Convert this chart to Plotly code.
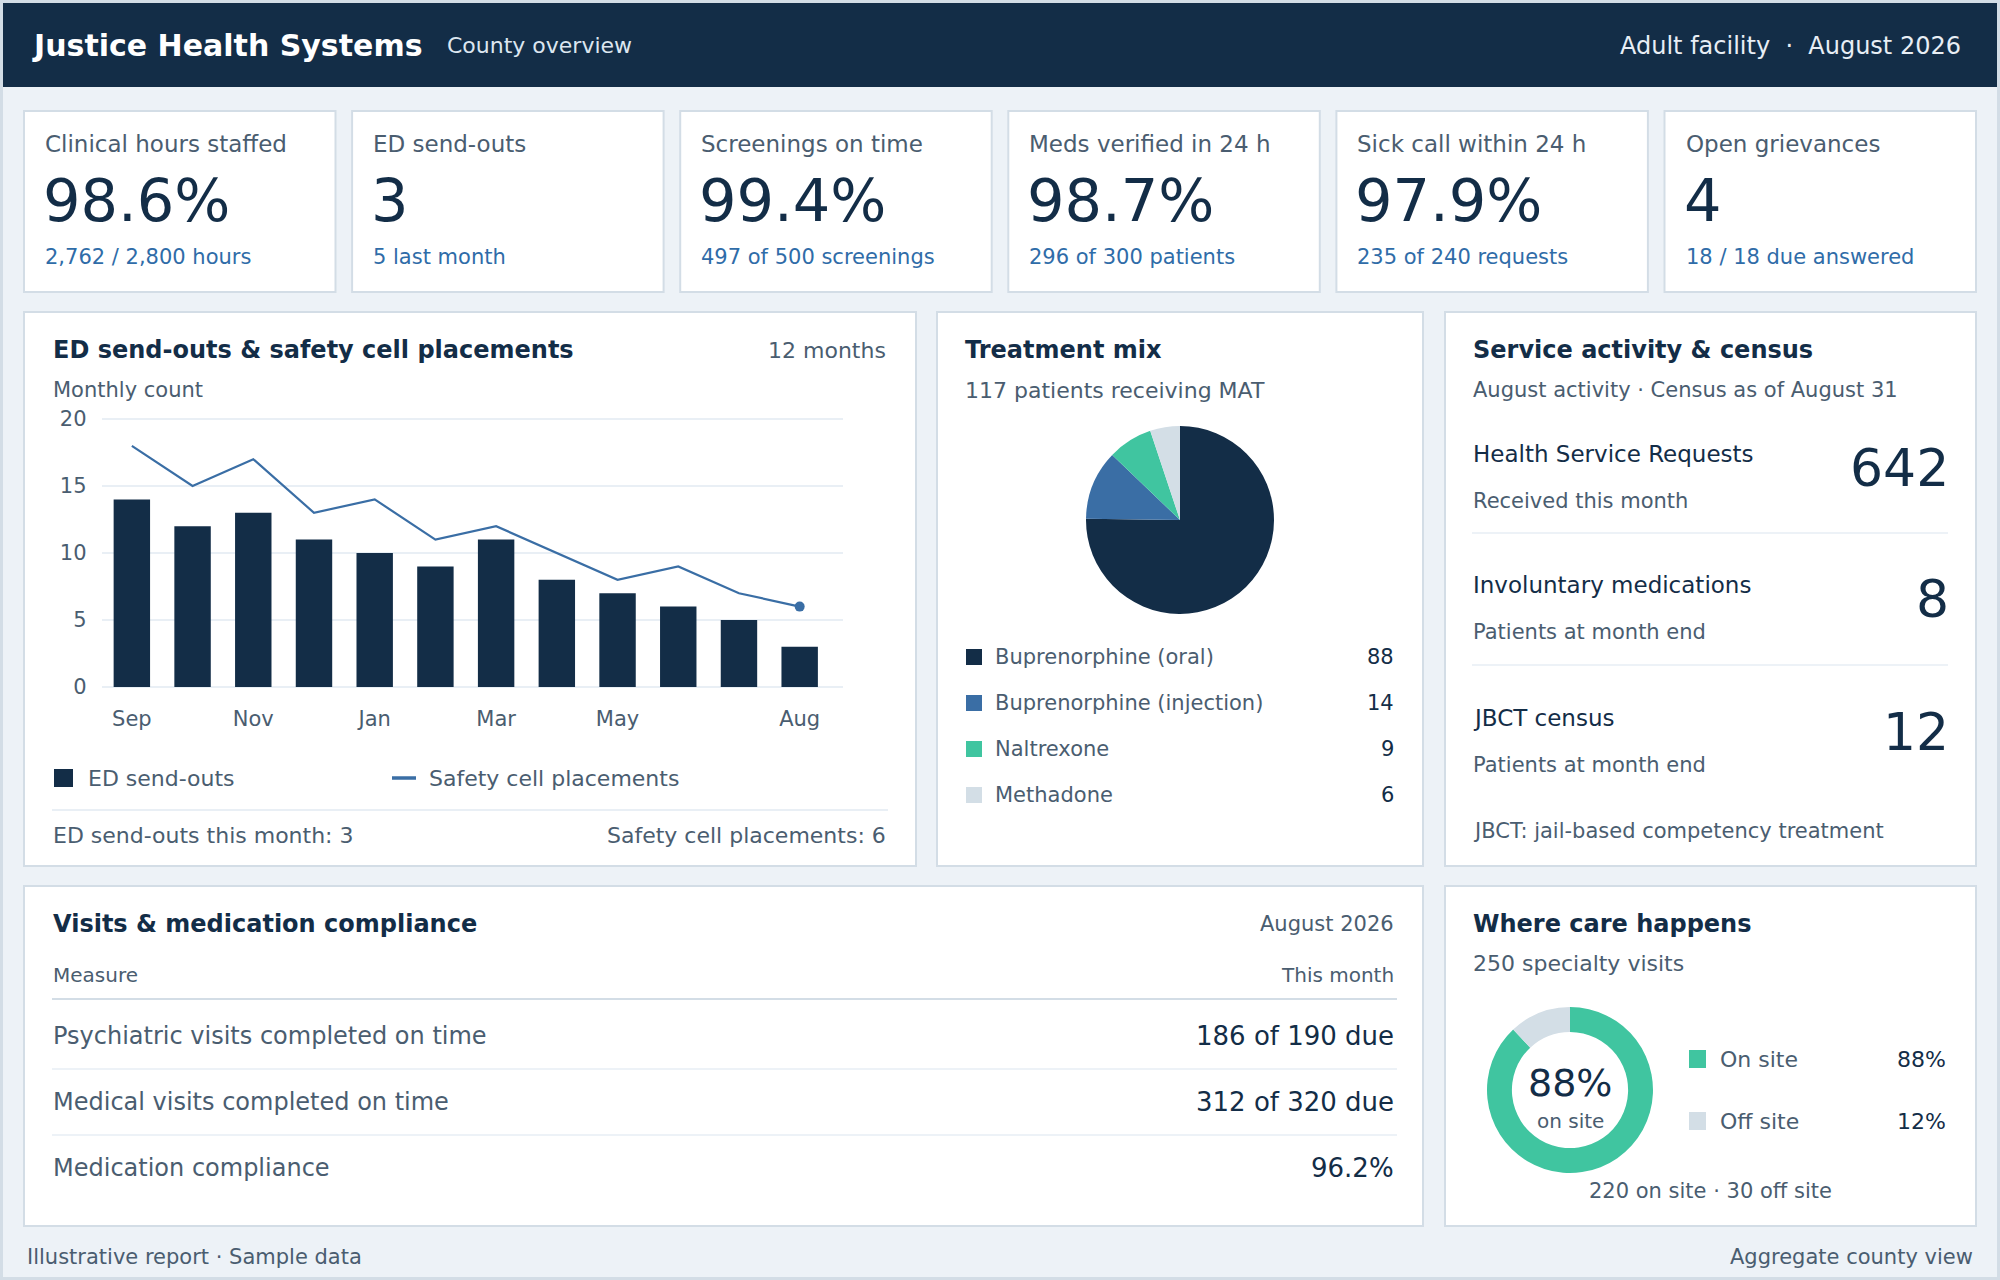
import plotly.graph_objects as go

W, H = 2000, 1280
FONT = "DejaVu Sans"

NAVY = "#132d47"
BLUE = "#3a6ea5"
GREEN = "#40c5a0"
LIGHT = "#d3dee6"
GRAY = "#4a5d70"
SUBBLUE = "#2f6ca8"
PAGE = "#edf2f7"
BORDER = "#d3dde6"

# ---------------- data ----------------
kpi_labels = ["Clinical hours staffed", "ED send-outs", "Screenings on time",
              "Meds verified in 24 h", "Sick call within 24 h", "Open grievances"]
kpi_values = ["98.6%", "3", "99.4%", "98.7%", "97.9%", "4"]
kpi_subs = ["2,762 / 2,800 hours", "5 last month", "497 of 500 screenings",
            "296 of 300 patients", "235 of 240 requests", "18 / 18 due answered"]

months = ["Sep", "Oct", "Nov", "Dec", "Jan", "Feb", "Mar", "Apr", "May", "Jun", "Jul", "Aug"]
tick_months = ["Sep", "Nov", "Jan", "Mar", "May", "Aug"]
ed_sendouts = [14, 12, 13, 11, 10, 9, 11, 8, 7, 6, 5, 3]
safety_cell = [18, 15, 17, 13, 14, 11, 12, 10, 8, 9, 7, 6]
y_ticks = [0, 5, 10, 15, 20]

mat_labels = ["Buprenorphine (oral)", "Buprenorphine (injection)", "Naltrexone", "Methadone"]
mat_counts = [88, 14, 9, 6]
mat_colors = [NAVY, BLUE, GREEN, LIGHT]

service_labels = ["Health Service Requests", "Involuntary medications", "JBCT census"]
service_subs = ["Received this month", "Patients at month end", "Patients at month end"]
service_values = [642, 8, 12]

visit_measures = ["Psychiatric visits completed on time", "Medical visits completed on time",
                  "Medication compliance"]
visit_values = ["186 of 190 due", "312 of 320 due", "96.2%"]

care_labels = ["On site", "Off site"]
care_counts = [220, 30]
care_colors = [GREEN, LIGHT]

# ---------------- helpers ----------------
shapes = []
annotations = []


def px(x):
    return x / W


def py(y):
    return 1 - y / H


def rect(x0, y0, x1, y1, fill, line=None, lw=0):
    shapes.append(dict(type="rect", xref="paper", yref="paper",
                       x0=px(x0), x1=px(x1), y0=py(y1), y1=py(y0),
                       fillcolor=fill, line=dict(color=line or fill, width=lw),
                       layer="below"))


def hline(x0, x1, y, color, w):
    shapes.append(dict(type="line", xref="paper", yref="paper",
                       x0=px(x0), x1=px(x1), y0=py(y), y1=py(y),
                       line=dict(color=color, width=w), layer="below"))


def text(x, y, s, size, color, anchor="left", bold=False):
    annotations.append(dict(xref="paper", yref="paper", x=px(x), y=py(y), text=s,
                            showarrow=False, xanchor=anchor, yanchor="middle",
                            borderpad=0,
                            font=dict(size=size, color=color, family=FONT,
                                      weight="bold" if bold else "normal")))


# ---------------- page frame & header ----------------
rect(1.5, 1.5, W - 1.5, H - 1.5, PAGE, BORDER, 3)
rect(3, 3, W - 3, 87, NAVY)
text(31, 46, "Justice Health Systems", 30, "white", bold=True)
text(446, 46, "County overview", 22, "#dce6f0")
text(1962, 46, "Adult facility  ·  August 2026", 24, "#e8eef5", anchor="right")

# ---------------- KPI cards ----------------
for i in range(6):
    x0 = 24 + i * 328.1
    rect(x0, 111, x0 + 311.5, 292, "white", BORDER, 2)
    text(x0 + 20, 144, kpi_labels[i], 23, GRAY)
    text(x0 + 18, 200, kpi_values[i], 59, NAVY)
    text(x0 + 20, 257, kpi_subs[i], 21, SUBBLUE)

# ---------------- panels ----------------
rect(24, 312, 916, 866, "white", BORDER, 2)
rect(937, 312, 1423, 866, "white", BORDER, 2)
rect(1445, 312, 1976, 866, "white", BORDER, 2)
rect(24, 886, 1423, 1226, "white", BORDER, 2)
rect(1445, 886, 1976, 1226, "white", BORDER, 2)

# Panel 1: bar + line chart
text(52, 350, "ED send-outs & safety cell placements", 24, NAVY, bold=True)
text(887, 350, "12 months", 22, GRAY, anchor="right")
text(52, 390, "Monthly count", 21, GRAY)
rect(54, 769, 73, 787, NAVY)
text(87, 778, "ED send-outs", 22, GRAY)
hline(392, 416, 778, BLUE, 3.5)
text(428, 778, "Safety cell placements", 22, GRAY)
hline(52, 888, 810, "#e9eff5", 2)
text(52, 835, f"ED send-outs this month: {ed_sendouts[-1]}", 22, GRAY)
text(887, 835, f"Safety cell placements: {safety_cell[-1]}", 22, GRAY, anchor="right")

# Panel 2: treatment mix
text(964, 350, "Treatment mix", 24, NAVY, bold=True)
text(964, 390, f"{sum(mat_counts)} patients receiving MAT", 22, GRAY)
for i, (lab, cnt) in enumerate(zip(mat_labels, mat_counts)):
    yy = 657 + i * 46
    rect(966, yy - 8, 982, yy + 8, mat_colors[i])
    text(994, yy, lab, 21, GRAY)
    text(1395, yy, str(cnt), 21, NAVY, anchor="right")

# Panel 3: service activity
text(1472, 350, "Service activity & census", 24, NAVY, bold=True)
text(1472, 390, "August activity · Census as of August 31", 21, GRAY)
row_y = [454, 585, 718]
for i in range(3):
    yy = row_y[i]
    text(1472, yy, service_labels[i], 23, NAVY)
    text(1472, yy + 47, service_subs[i], 21, GRAY)
    text(1950, yy + 14, str(service_values[i]), 52, NAVY, anchor="right")
hline(1472, 1948, 533, "#edf2f7", 2)
hline(1472, 1948, 665, "#edf2f7", 2)
text(1472, 831, "JBCT: jail-based competency treatment", 21, GRAY)

# Panel 4: visits table
text(52, 924, "Visits & medication compliance", 24, NAVY, bold=True)
text(1395, 924, "August 2026", 21, GRAY, anchor="right")
text(52, 975, "Measure", 20, GRAY)
text(1395, 975, "This month", 20, GRAY, anchor="right")
hline(52, 1397, 999, BORDER, 2)
for i, (m, v) in enumerate(zip(visit_measures, visit_values)):
    yy = 1036 + i * 66
    text(52, yy, m, 24, GRAY)
    text(1395, yy, v, 26, NAVY, anchor="right")
    if i < 2:
        hline(52, 1397, yy + 33, "#edf2f7", 2)

# Panel 5: where care happens
total_care = sum(care_counts)
pcts = [round(100 * c / total_care) for c in care_counts]
text(1472, 924, "Where care happens", 24, NAVY, bold=True)
text(1472, 963, f"{total_care} specialty visits", 22, GRAY)
text(1570, 1083, f"{pcts[0]}%", 38, NAVY, anchor="center")
text(1570, 1121, "on site", 20, GRAY, anchor="center")
for i in range(2):
    yy = 1059 + i * 62
    rect(1689, yy - 9, 1706, yy + 9, care_colors[i])
    text(1719, yy, care_labels[i], 22, GRAY)
    text(1947, yy, f"{pcts[i]}%", 22, NAVY, anchor="right")
text(1710, 1191, f"{care_counts[0]} on site · {care_counts[1]} off site", 21, GRAY, anchor="center")

# Footer
text(26, 1257, "Illustrative report · Sample data", 21, GRAY)
text(1974, 1257, "Aggregate county view", 21, GRAY, anchor="right")

# ---------------- traces ----------------
fig = go.Figure()
fig.add_trace(go.Bar(x=months, y=ed_sendouts, marker_color=NAVY, name="ED send-outs",
                     xaxis="x", yaxis="y"))
fig.add_trace(go.Scatter(x=months, y=safety_cell, mode="lines",
                         line=dict(color=BLUE, width=2.2), name="Safety cell placements",
                         xaxis="x", yaxis="y"))
fig.add_trace(go.Scatter(x=months[-1:], y=safety_cell[-1:], mode="markers",
                         marker=dict(color=BLUE, size=10), showlegend=False,
                         xaxis="x", yaxis="y"))

fig.add_trace(go.Pie(labels=mat_labels, values=mat_counts, sort=False,
                     direction="clockwise", rotation=0, textinfo="none",
                     marker=dict(colors=mat_colors, line=dict(width=0)),
                     domain=dict(x=[px(1086), px(1274)], y=[py(614), py(426)]),
                     showlegend=False, automargin=False))
fig.add_trace(go.Pie(labels=care_labels, values=care_counts, sort=False, hole=0.70,
                     direction="clockwise", rotation=0, textinfo="none",
                     marker=dict(colors=care_colors, line=dict(width=0)),
                     domain=dict(x=[px(1487), px(1653)], y=[py(1173), py(1007)]),
                     showlegend=False, automargin=False))

# y axis: 0 at 687 px, 20 at 419 px; pad range slightly so edge gridlines draw
y_pad = 0.15
unit_px = (687 - 419) / 20.0
fig.update_layout(
    template="none",
    width=W, height=H, autosize=False,
    margin=dict(l=0, r=0, t=0, b=0, pad=0, autoexpand=False),
    paper_bgcolor=PAGE,
    plot_bgcolor="rgba(0,0,0,0)",
    showlegend=False,
    bargap=0.4,
    font=dict(family=FONT, color=GRAY),
    shapes=shapes,
    annotations=annotations,
    xaxis=dict(domain=[px(101.5), px(843)], type="category",
               categoryorder="array", categoryarray=months,
               tickmode="array", tickvals=tick_months, ticktext=tick_months,
               showgrid=False, showline=False, zeroline=False, ticks="",
               automargin=False,
               tickfont=dict(size=21, color=GRAY), ticklabelstandoff=15,
               fixedrange=True),
    yaxis=dict(domain=[py(687 + y_pad * unit_px), py(419 - y_pad * unit_px)],
               range=[-y_pad, 20 + y_pad],
               tickmode="array", tickvals=y_ticks,
               showgrid=True, gridcolor="#e9eff5", gridwidth=2,
               zeroline=False, showline=False, ticks="",
               automargin=False,
               tickfont=dict(size=21, color=GRAY), ticklabelstandoff=14,
               fixedrange=True),
)

fig.write_html(
    "out.html",
    config={"displayModeBar": False, "responsive": False},
    post_script=(
        "document.documentElement.style.margin='0';"
        "document.body.style.margin='0';document.body.style.overflow='hidden';"
        "var gd=document.getElementById('{plot_id}');"
        "gd.style.position='fixed';gd.style.left='0px';gd.style.top='0px';"
    ),
)
